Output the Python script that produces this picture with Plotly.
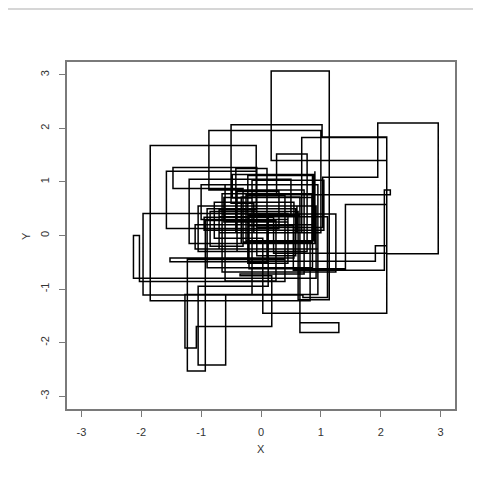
import plotly.graph_objects as go

# Step-line data (R type="s")
x_vals = [0.45, -0.62, 0.85, -0.30, 0.92, -2.13, -2.03, 0.40, -0.15, 1.05,
          -0.95, 0.21, 2.10, 0.17, 1.14, 0.62, -0.85, -0.30, -1.47, -0.07,
          1.03, 1.95, 2.96, 2.10, 0.03, -0.78, 0.55, -1.52, 0.10, -0.42,
          0.68, 2.10, 1.41, -0.20, 0.65, 1.30, 0.65, -0.33, 0.82, -1.85,
          -0.08, -0.70, 0.45, -1.97, -0.15, -0.48, 0.88, -0.25, 0.40, -1.23,
          -0.93, 0.25, -0.60, 0.95, -1.27, -1.08, 0.18, -0.35, 0.72, -0.87,
          1.00, -0.12, -0.50, 1.02, 2.10, 1.91, -0.20, 0.54, 2.06, 2.16,
          0.26, 0.77, -0.65, 0.12, -1.05, -0.59, 0.70, 1.11, -0.40, 0.30,
          -1.58, -0.07, 0.58, -0.90, 0.86, -0.22, 0.45, -1.00, 0.95, -1.10,
          0.85, -0.65, 1.25, -0.40, -1.05, 0.60, -0.70, 0.50, -1.20, 0.90]
y_vals = [0.25, 0.71, -0.12, 0.55, -0.80, 0.00, -0.86, 0.62, 1.03, 0.10,
          0.34, -0.33, 1.40, 3.07, -1.20, 0.45, -0.20, 0.88, 1.27, 0.15,
          1.09, 2.10, -0.34, -1.45, -0.05, 0.62, -0.42, -0.49, 1.25, 0.05,
          1.83, 0.58, -0.62, 0.38, -1.63, -1.81, 0.72, -0.15, -1.22, 1.68,
          0.48, -0.25, 0.41, -1.11, 0.70, 1.14, -0.10, 0.75, -0.45, -2.53,
          0.28, -0.85, 0.95, -1.10, -2.10, -1.70, -0.75, -0.72, 0.85, 1.96,
          0.05, 0.60, 2.07, 1.84, -0.19, -0.48, 0.18, -0.65, 0.85, 0.76,
          1.52, -0.30, 0.40, -0.95, -2.42, -1.11, -1.16, 0.35, 0.82, 0.13,
          1.20, -0.38, 0.50, -0.60, 1.12, -0.52, 0.30, 0.95, -0.25, 0.20,
          0.78, -0.68, 0.40, -0.30, 0.55, 0.05, 0.35, 1.05, -0.15, 1.20]
tick_vals = [-3, -2, -1, 0, 1, 2, 3]
tick_text = ["-3", "-2", "-1", "0", "1", "2", "3"]

fig = go.Figure()
fig.add_trace(go.Scatter(x=x_vals, y=y_vals, mode="lines",
                         line=dict(shape="hv", color="black", width=1.5),
                         showlegend=False, hoverinfo="skip"))

axis_common = dict(
    range=[-3.24, 3.24], tickvals=tick_vals, ticktext=tick_text,
    showgrid=False, zeroline=False, showline=True, mirror=True,
    linecolor="#7a7a7a", linewidth=1.5, ticks="outside", ticklen=6,
    tickcolor="#7a7a7a", tickwidth=1.2,
    tickfont=dict(family="Liberation Sans, Arial", size=11, color="#333333"),
)
fig.update_xaxes(**axis_common, ticklabelstandoff=6)
fig.update_yaxes(**axis_common, tickangle=-90, ticklabelstandoff=6)

# The page body has an 8px margin; figure spans page pixels 8..487
OFF = 8
L, T, W, H = 67 - OFF, 62 - OFF, 388.0, 347.0
FW, FH = 487 - OFF, 487 - OFF

fig.update_layout(
    width=FW, height=FH,
    margin=dict(l=L, r=FW - L - W, t=T, b=FH - T - H),
    plot_bgcolor="white", paper_bgcolor="white",
    annotations=[
        dict(text="X", x=(261 - 67) / W, y=(409 - 457) / H,
             xref="paper", yref="paper", showarrow=False,
             font=dict(family="Liberation Sans, Arial", size=11, color="#333333")),
        dict(text="Y", x=(18 - 67) / W, y=(409 - 236) / H,
             xref="paper", yref="paper", showarrow=False, textangle=-90,
             font=dict(family="Liberation Sans, Arial", size=11, color="#333333")),
    ],
    shapes=[dict(type="line", xref="paper", yref="paper",
                 x0=-L / W, x1=(473 - 67) / W,
                 y0=1 + (T - 1) / H, y1=1 + (T - 1) / H,
                 line=dict(color="#c8c8c8", width=1.5))],
)

fig.write_html("out.html")
